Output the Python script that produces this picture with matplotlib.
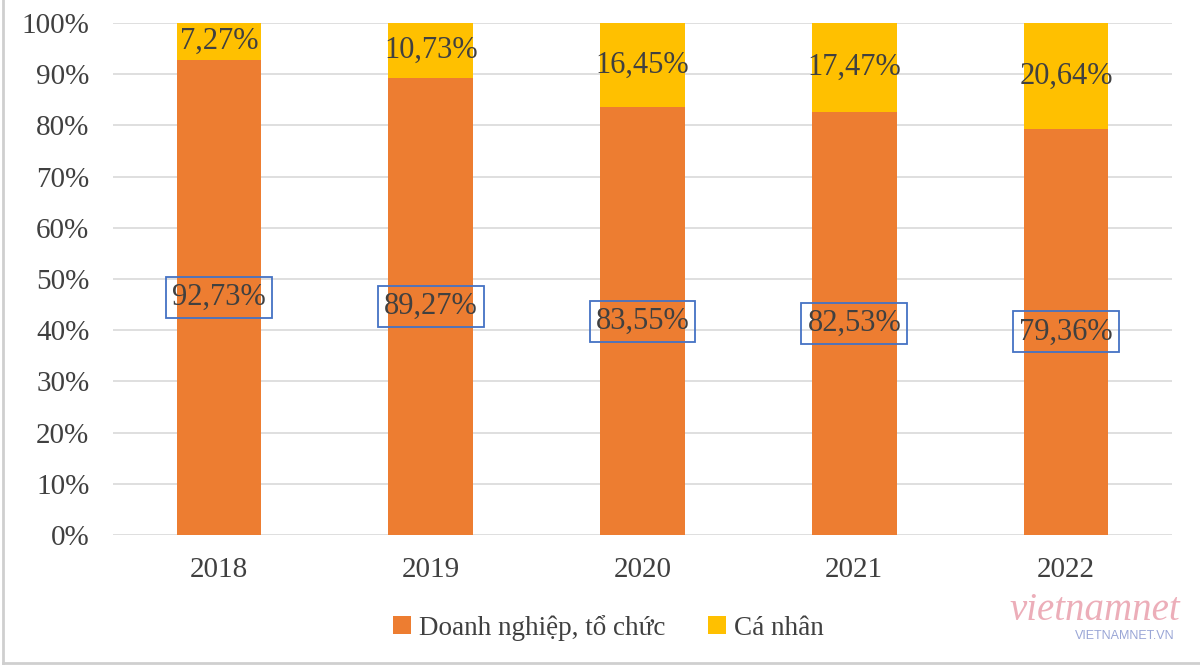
import matplotlib.pyplot as plt
from matplotlib.lines import Line2D

years = ["2018", "2019", "2020", "2021", "2022"]
doanh_nghiep = [92.73, 89.27, 83.55, 82.53, 79.36]
ca_nhan = [7.27, 10.73, 16.45, 17.47, 20.64]
dn_labels = ["92,73%", "89,27%", "83,55%", "82,53%", "79,36%"]
cn_labels = ["7,27%", "10,73%", "16,45%", "17,47%", "20,64%"]

plt.rcParams['font.family'] = ['Liberation Serif', 'DejaVu Serif']

orange = '#ED7D31'
yellow = '#FFC000'
txt = '#404040'

fig = plt.figure(figsize=(12, 6.67), dpi=100)
ax = fig.add_axes([113 / 1200, 1 - 535 / 667, (1172 - 113) / 1200, (535 - 23) / 667])

x = range(len(years))
w = 0.4
ax.bar(x, doanh_nghiep, width=w, color=orange, label='Doanh nghiệp, tổ chức', zorder=2)
ax.bar(x, ca_nhan, width=w, bottom=doanh_nghiep, color=yellow, label='Cá nhân', zorder=2)

for i in x:
    ax.text(i, doanh_nghiep[i] / 2, dn_labels[i], ha='center', va='center', fontsize=22, color=txt,
            zorder=3, bbox=dict(boxstyle='square,pad=0.2', facecolor='none', edgecolor='#4472C4', linewidth=1.3))
    ax.text(i, doanh_nghiep[i] + ca_nhan[i] / 2, cn_labels[i], ha='center', va='center',
            fontsize=22, color=txt, zorder=3)

ax.set_xlim(-0.5, 4.5)
ax.set_ylim(0, 100)
ax.set_xticks(list(x))
ax.set_xticklabels(years)
ax.set_yticks(range(0, 101, 10))
ax.set_yticklabels([f"{v}%" for v in range(0, 101, 10)])
ax.tick_params(axis='both', length=0, labelsize=21, labelcolor=txt)
ax.tick_params(axis='x', pad=16)
ax.tick_params(axis='y', pad=17)
ax.yaxis.grid(True, color='#d9d9d9', linewidth=1.2, zorder=0)
for s in ax.spines.values():
    s.set_visible(False)

fig.legend(loc='center', bbox_to_anchor=(0.507, 1 - 628 / 667), ncol=2, frameon=False,
           fontsize=19.5, labelcolor=txt, handlelength=0.65, handleheight=0.65, handletextpad=0.3,
           columnspacing=1.6)

# watermark
fig.text(1095 / 1200, 1 - 610 / 667, 'vietnamnet', ha='center', va='center', fontsize=28,
         color='#e89aa8', alpha=0.8, family='Liberation Serif', style='italic')
fig.text(1125 / 1200, 1 - 636 / 667, 'VIETNAMNET.VN', ha='center', va='center', fontsize=9,
         color='#9aa6d6', family='Liberation Sans')

# image frame
fig.add_artist(Line2D([3 / 1200, 3 / 1200], [4 / 667, 1], transform=fig.transFigure, color='#cfcfcf', lw=2))
fig.add_artist(Line2D([3 / 1200, 1], [4 / 667, 4 / 667], transform=fig.transFigure, color='#cfcfcf', lw=2))

fig.savefig('out.png', dpi=100)
